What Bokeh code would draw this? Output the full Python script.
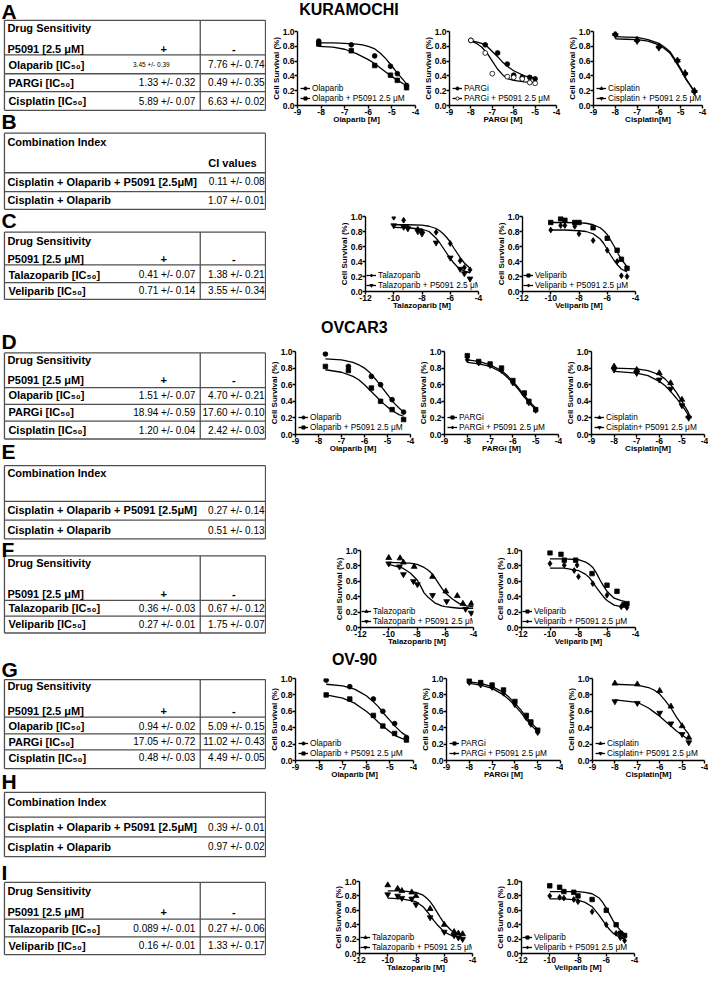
from bokeh.plotting import figure
from bokeh.layouts import row, column
from bokeh.models import Range1d, Legend, LegendItem, FixedTicker, PrintfTickFormatter
from bokeh.embed import file_html
from bokeh.resources import INLINE
from bokeh.core.properties import value

FONT = "Liberation Sans"
MU = "\u03bc"

# ======================= DATA =======================
# --- tables ---
A_drugs = ["Olaparib", "PARGi", "Cisplatin"]
A_plus = ["3.45 +/- 0.39", "1.33 +/- 0.32", "5.89 +/- 0.07"]
A_minus = ["7.76 +/- 0.74", "0.49 +/- 0.35", "6.63 +/- 0.02"]
CI_rows = ["Cisplatin + Olaparib + P5091 [2.5" + MU + "M]", "Cisplatin + Olaparib"]
B_ci = ["0.11 +/- 0.08", "1.07 +/- 0.01"]
C_drugs = ["Talazoparib", "Veliparib"]
C_plus = ["0.41 +/- 0.07", "0.71 +/- 0.14"]
C_minus = ["1.38 +/- 0.21", "3.55 +/- 0.34"]
D_plus = ["1.51 +/- 0.07", "18.94 +/- 0.59", "1.20 +/- 0.04"]
D_minus = ["4.70 +/- 0.21", "17.60 +/- 0.10", "2.42 +/- 0.03"]
E_ci = ["0.27 +/- 0.14", "0.51 +/- 0.13"]
F_plus = ["0.36 +/- 0.03", "0.27 +/- 0.01"]
F_minus = ["0.67 +/- 0.12", "1.75 +/- 0.07"]
G_plus = ["0.94 +/- 0.02", "17.05 +/- 0.72", "0.48 +/- 0.03"]
G_minus = ["5.09 +/- 0.15", "11.02 +/- 0.43", "4.49 +/- 0.05"]
H_ci = ["0.39 +/- 0.01", "0.97 +/- 0.02"]
I_plus = ["0.089 +/- 0.01", "0.16 +/- 0.01"]
I_minus = ["0.27 +/- 0.06", "1.33 +/- 0.17"]

# --- KURAMOCHI ---
ku_ola_x = [-8.1, -6.72, -5.73, -5.06, -4.77, -4.38]
ku_ola_alone = [0.87, 0.82, 0.67, 0.53, 0.43, 0.27]
ku_ola_combo = [0.83, 0.74, 0.54, 0.41, 0.34, 0.24]
ku_ola_fit_x = [-8.1, -7.5, -7.0, -6.5, -6.25, -6.0, -5.75, -5.5, -5.25, -5.0, -4.75, -4.5, -4.38]
ku_ola_fit_alone = [0.845, 0.845, 0.84, 0.83, 0.82, 0.80, 0.77, 0.71, 0.63, 0.53, 0.43, 0.34, 0.29]
ku_ola_fit_combo = [0.80, 0.79, 0.76, 0.70, 0.66, 0.62, 0.57, 0.51, 0.45, 0.39, 0.34, 0.29, 0.27]

ku_parg_x_alone = [-8.0, -7.33, -6.75, -6.3, -6.0, -5.6, -5.25, -5.0]
ku_parg_alone = [0.88, 0.82, 0.71, 0.56, 0.41, 0.38, 0.38, 0.36]
ku_parg_x_combo = [-8.0, -7.33, -7.0, -6.3, -6.0, -5.6, -5.25, -5.0]
ku_parg_combo = [0.88, 0.71, 0.43, 0.39, 0.38, 0.36, 0.31, 0.30]
ku_parg_fit_x = [-8.0, -7.75, -7.5, -7.25, -7.0, -6.75, -6.5, -6.25, -6.0, -5.5, -5.0]
ku_parg_fit_alone = [0.875, 0.86, 0.84, 0.80, 0.73, 0.66, 0.58, 0.52, 0.47, 0.40, 0.37]
ku_parg_fit_combo = [0.875, 0.84, 0.79, 0.71, 0.60, 0.49, 0.41, 0.36, 0.34, 0.32, 0.31]

ku_cis_x = [-8.0, -7.0, -6.0, -5.15, -4.8, -4.37]
ku_cis_alone = [0.97, 0.89, 0.80, 0.61, 0.44, 0.20]
ku_cis_combo = [0.95, 0.87, 0.78, 0.60, 0.42, 0.18]
ku_cis_fit_x = [-8.0, -7.5, -7.0, -6.5, -6.0, -5.75, -5.5, -5.25, -5.0, -4.75, -4.5, -4.37]
ku_cis_fit_alone = [0.93, 0.925, 0.92, 0.89, 0.84, 0.79, 0.73, 0.62, 0.50, 0.36, 0.25, 0.19]
ku_cis_fit_combo = [0.90, 0.895, 0.89, 0.87, 0.82, 0.77, 0.71, 0.60, 0.48, 0.35, 0.24, 0.18]

ku_tala_x = [-10.0, -9.3, -9.0, -8.3, -8.0, -7.0, -6.0, -5.3, -5.0, -4.6]
ku_tala_alone = [0.99, 0.95, 0.85, 0.83, 0.80, 0.79, 0.64, 0.41, 0.32, 0.29]
ku_tala_combo = [0.88, 0.86, 0.84, 0.80, 0.77, 0.65, 0.45, 0.30, 0.24, 0.17]
ku_tala_fit_x = [-10.0, -9.0, -8.0, -7.5, -7.0, -6.75, -6.5, -6.25, -6.0, -5.75, -5.5, -5.25, -5.0, -4.6]
ku_tala_fit_alone = [0.89, 0.89, 0.885, 0.87, 0.84, 0.81, 0.77, 0.72, 0.66, 0.58, 0.51, 0.44, 0.38, 0.31]
ku_tala_fit_combo = [0.855, 0.85, 0.83, 0.80, 0.71, 0.65, 0.58, 0.51, 0.44, 0.38, 0.33, 0.30, 0.27, 0.25]

ku_veli_x = [-10.0, -9.3, -9.0, -8.3, -8.0, -7.0, -6.0, -5.3, -5.0, -4.6]
ku_veli_alone = [0.92, 0.97, 0.95, 0.92, 0.92, 0.85, 0.71, 0.55, 0.43, 0.31]
ku_veli_combo = [0.82, 0.88, 0.88, 0.87, 0.77, 0.68, 0.55, 0.40, 0.21, 0.20]
ku_veli_fit_x = [-10.0, -9.0, -8.0, -7.5, -7.0, -6.5, -6.25, -6.0, -5.75, -5.5, -5.25, -5.0, -4.6]
ku_veli_fit_alone = [0.92, 0.92, 0.915, 0.91, 0.89, 0.85, 0.81, 0.76, 0.68, 0.60, 0.51, 0.43, 0.33]
ku_veli_fit_combo = [0.82, 0.82, 0.81, 0.80, 0.77, 0.70, 0.64, 0.56, 0.48, 0.41, 0.35, 0.30, 0.26]

# --- OVCAR3 ---
ov_ola_x = [-7.7, -6.7, -5.7, -5.3, -4.8, -4.3]
ov_ola_alone = [0.97, 0.82, 0.70, 0.60, 0.42, 0.27]
ov_ola_combo = [0.82, 0.77, 0.56, 0.40, 0.30, 0.18]
ov_ola_fit_x = [-7.7, -7.0, -6.5, -6.25, -6.0, -5.75, -5.5, -5.25, -5.0, -4.75, -4.5, -4.3]
ov_ola_fit_alone = [0.91, 0.90, 0.87, 0.84, 0.80, 0.74, 0.66, 0.57, 0.48, 0.39, 0.32, 0.27]
ov_ola_fit_combo = [0.78, 0.75, 0.70, 0.66, 0.60, 0.53, 0.46, 0.39, 0.33, 0.28, 0.24, 0.22]

ov_parg_x = [-8.0, -7.5, -7.0, -6.5, -6.0, -5.5, -5.3, -5.0]
ov_parg_alone = [0.95, 0.88, 0.85, 0.80, 0.65, 0.50, 0.40, 0.30]
ov_parg_combo = [0.90, 0.86, 0.83, 0.77, 0.62, 0.48, 0.38, 0.29]
ov_parg_fit_x = [-8.0, -7.5, -7.0, -6.5, -6.25, -6.0, -5.75, -5.5, -5.25, -5.0]
ov_parg_fit_alone = [0.90, 0.88, 0.84, 0.77, 0.71, 0.64, 0.56, 0.47, 0.39, 0.32]
ov_parg_fit_combo = [0.87, 0.85, 0.82, 0.75, 0.69, 0.62, 0.54, 0.45, 0.37, 0.30]

ov_cis_x = [-8.0, -7.0, -6.0, -5.5, -5.0, -4.7]
ov_cis_alone = [0.82, 0.78, 0.74, 0.62, 0.42, 0.22]
ov_cis_combo = [0.78, 0.74, 0.66, 0.55, 0.35, 0.20]
ov_cis_fit_x = [-8.0, -7.0, -6.5, -6.0, -5.75, -5.5, -5.25, -5.0, -4.85, -4.7]
ov_cis_fit_alone = [0.80, 0.79, 0.77, 0.72, 0.67, 0.60, 0.51, 0.40, 0.33, 0.26]
ov_cis_fit_combo = [0.76, 0.74, 0.71, 0.64, 0.59, 0.52, 0.44, 0.35, 0.29, 0.23]

ov_tala_x_alone = [-10.0, -9.2, -8.96, -8.2, -6.9, -5.96, -5.15, -4.75, -4.16]
ov_tala_alone = [0.905, 0.90, 0.845, 0.79, 0.66, 0.47, 0.41, 0.31, 0.31]
ov_tala_x_combo = [-10.0, -9.24, -8.96, -8.25, -7.97, -6.9, -5.9, -4.56, -4.16]
ov_tala_combo = [0.83, 0.79, 0.69, 0.60, 0.56, 0.42, 0.34, 0.24, 0.19]
ov_tala_fit_x = [-10.0, -9.0, -8.5, -8.0, -7.75, -7.5, -7.25, -7.0, -6.75, -6.5, -6.25, -6.0,
                 -5.5, -5.0, -4.5, -4.0]
ov_tala_fit_alone = [0.845, 0.84, 0.835, 0.82, 0.80, 0.78, 0.75, 0.71, 0.65, 0.58, 0.51, 0.45,
                     0.37, 0.31, 0.28, 0.27]
ov_tala_fit_combo = [0.82, 0.77, 0.71, 0.62, 0.54, 0.45, 0.40, 0.36, 0.32, 0.30, 0.28, 0.27,
                     0.26, 0.25, 0.25, 0.25]

ov_veli_x_alone = [-10.0, -9.23, -9.0, -8.2, -7.05, -6.0, -5.3, -4.8, -4.6]
ov_veli_alone = [0.97, 0.95, 0.875, 0.875, 0.70, 0.55, 0.47, 0.30, 0.31]
ov_veli_x_combo = [-10.0, -9.0, -8.3, -8.1, -8.0, -7.0, -6.0, -5.0, -4.6]
ov_veli_combo = [0.83, 0.81, 0.74, 0.81, 0.66, 0.57, 0.42, 0.27, 0.26]
ov_veli_fit_x = [-10.0, -9.0, -8.0, -7.5, -7.25, -7.0, -6.75, -6.5, -6.25, -6.0, -5.5, -5.0, -4.75]
ov_veli_fit_alone = [0.89, 0.89, 0.88, 0.85, 0.82, 0.78, 0.71, 0.62, 0.54, 0.47, 0.38, 0.35, 0.34]
ov_veli_fit_combo = [0.77, 0.77, 0.74, 0.69, 0.65, 0.59, 0.52, 0.46, 0.40, 0.35, 0.29, 0.27, 0.26]

# --- OV-90 ---
o9_ola_x = [-7.7, -6.7, -5.7, -5.3, -4.8, -4.3]
o9_ola_alone = [0.98, 0.90, 0.75, 0.60, 0.45, 0.28]
o9_ola_combo = [0.80, 0.75, 0.55, 0.42, 0.33, 0.25]
o9_ola_fit_x = [-7.7, -7.0, -6.5, -6.25, -6.0, -5.75, -5.5, -5.25, -5.0, -4.75, -4.5, -4.3]
o9_ola_fit_alone = [0.93, 0.91, 0.87, 0.83, 0.79, 0.73, 0.66, 0.57, 0.49, 0.41, 0.34, 0.30]
o9_ola_fit_combo = [0.80, 0.76, 0.70, 0.65, 0.60, 0.54, 0.47, 0.41, 0.35, 0.30, 0.27, 0.25]

o9_parg_x = [-8.0, -7.5, -7.0, -6.5, -6.0, -5.5, -5.3, -5.0]
o9_parg_alone = [0.97, 0.95, 0.92, 0.86, 0.72, 0.55, 0.47, 0.37]
o9_parg_combo = [0.95, 0.92, 0.89, 0.82, 0.68, 0.52, 0.44, 0.34]
o9_parg_fit_x = [-8.0, -7.5, -7.0, -6.5, -6.25, -6.0, -5.75, -5.5, -5.25, -5.0]
o9_parg_fit_alone = [0.96, 0.94, 0.90, 0.83, 0.77, 0.70, 0.62, 0.53, 0.45, 0.38]
o9_parg_fit_combo = [0.94, 0.92, 0.88, 0.80, 0.74, 0.67, 0.59, 0.50, 0.42, 0.35]

o9_cis_x = [-8.0, -7.0, -6.0, -5.5, -5.0, -4.7]
o9_cis_alone = [0.94, 0.93, 0.85, 0.66, 0.42, 0.28]
o9_cis_combo = [0.72, 0.70, 0.58, 0.45, 0.32, 0.22]
o9_cis_fit_x = [-8.0, -7.0, -6.5, -6.25, -6.0, -5.75, -5.5, -5.25, -5.0, -4.85, -4.7]
o9_cis_fit_alone = [0.93, 0.92, 0.89, 0.86, 0.81, 0.73, 0.64, 0.53, 0.43, 0.37, 0.32]
o9_cis_fit_combo = [0.74, 0.71, 0.64, 0.59, 0.54, 0.48, 0.42, 0.36, 0.31, 0.28, 0.26]

o9_tala_x = [-10.0, -9.3, -9.0, -8.3, -8.0, -7.0, -6.0, -5.3, -5.0, -4.7]
o9_tala_alone = [0.95, 0.90, 0.87, 0.85, 0.80, 0.62, 0.40, 0.30, 0.28, 0.27]
o9_tala_combo = [0.82, 0.80, 0.77, 0.76, 0.68, 0.50, 0.30, 0.25, 0.22, 0.20]
o9_tala_fit_x = [-10.0, -9.0, -8.0, -7.5, -7.25, -7.0, -6.75, -6.5, -6.25, -6.0, -5.5, -5.0, -4.7]
o9_tala_fit_alone = [0.87, 0.87, 0.85, 0.81, 0.77, 0.72, 0.65, 0.57, 0.49, 0.42, 0.32, 0.27, 0.26]
o9_tala_fit_combo = [0.77, 0.76, 0.72, 0.65, 0.59, 0.53, 0.46, 0.40, 0.35, 0.30, 0.25, 0.23, 0.22]

o9_veli_x = [-10.0, -9.3, -9.0, -8.3, -8.0, -7.0, -6.0, -5.3, -5.0, -4.7]
o9_veli_alone = [0.94, 0.92, 0.86, 0.85, 0.80, 0.75, 0.60, 0.40, 0.28, 0.25]
o9_veli_combo = [0.80, 0.78, 0.77, 0.75, 0.72, 0.58, 0.40, 0.28, 0.22, 0.18]
o9_veli_fit_x = [-10.0, -9.0, -8.0, -7.5, -7.0, -6.5, -6.25, -6.0, -5.75, -5.5, -5.25, -5.0, -4.7]
o9_veli_fit_alone = [0.86, 0.86, 0.86, 0.85, 0.83, 0.77, 0.71, 0.63, 0.54, 0.45, 0.38, 0.32, 0.27]
o9_veli_fit_combo = [0.76, 0.76, 0.74, 0.71, 0.65, 0.53, 0.46, 0.39, 0.33, 0.28, 0.25, 0.22, 0.20]

# ======================= GEOMETRY =======================
KX = KY = 0.99
X0, Y0 = 3, 2
SPLIT, RIGHT, BOTTOM = 272, 718, 986


def px(r):
    return int(round((r - X0) * KX))


def py(r):
    return int(round((r - Y0) * KY))


def blank_fig(w, h, xr, yr):
    f = figure(width=w, height=h, x_range=Range1d(*xr), y_range=Range1d(*yr),
               toolbar_location=None, output_backend="svg", min_border=0,
               outline_line_color=None, x_axis_location=None, y_axis_location=None)
    f.grid.visible = False
    return f


# ======================= LEFT: TABLES =======================
lf = blank_fig(px(SPLIT), py(BOTTOM), (X0, SPLIT), (BOTTOM, Y0))
seg = dict(x0=[], y0=[], x1=[], y1=[])
groups = {}
XL, XR, XD = 7, 271, 205


def hline(y):
    seg["x0"].append(XL); seg["x1"].append(XR); seg["y0"].append(y); seg["y1"].append(y)


def vline(x, ya, yb):
    seg["x0"].append(x); seg["x1"].append(x); seg["y0"].append(ya); seg["y1"].append(yb)


def txt(x, y, s, size="11px", bold=True, align="left"):
    g = groups.setdefault((size, bold, align), dict(x=[], y=[], text=[]))
    g["x"].append(x); g["y"].append(y); g["text"].append(s)


def ds_table(g, drugs, plus, minus, small_first=False):
    rows = g["rows"]
    for y in [g["top"], g["hdr"]] + rows:
        hline(y)
    for x in (XL, XR, XD):
        vline(x, g["top"], rows[-1])
    txt(10, g["t_ds"], "Drug Sensitivity")
    txt(10, g["t_p"], "P5091 [2.5 " + MU + "M]")
    txt(168, g["t_p"], "+", align="center")
    txt(239, g["t_p"], "-", align="center")
    for i, (d, a, b, ty) in enumerate(zip(drugs, plus, minus, g["t_rows"])):
        txt(11, ty, d + " [IC\u2085\u2080]")
        if small_first and i == 0:
            txt(137, ty, a, size="6.5px", bold=False)
        else:
            txt(200, ty, a, size="10px", bold=False, align="right")
        txt(270, ty, b, size="10px", bold=False, align="right")


def ci_table(g, labels, ci, header):
    rows = g["rows"]
    for y in [g["top"], g["hdr"]] + rows:
        hline(y)
    for x in (XL, XR):
        vline(x, g["top"], rows[-1])
    txt(10, g["t_title"], "Combination Index")
    if header:
        txt(262, g["t_ci"], "CI values", align="right")
    for lab, v, ty in zip(labels, ci, g["t_rows"]):
        txt(10, ty, lab)
        txt(270, ty, v, size="10px", bold=False, align="right")


ds_table(dict(top=22, hdr=57, rows=[76, 94, 113], t_ds=30, t_p=51, t_rows=[67, 85, 104]),
         A_drugs, A_plus, A_minus, small_first=True)
ci_table(dict(top=136, hdr=176, rows=[195, 213], t_title=145, t_ci=166, t_rows=[185, 204]),
         CI_rows, B_ci, True)
ds_table(dict(top=236, hdr=269, rows=[287, 304], t_ds=245, t_p=263, t_rows=[279, 295]),
         C_drugs, C_plus, C_minus)
ds_table(dict(top=358, hdr=393, rows=[410, 427, 445], t_ds=365, t_p=385, t_rows=[401, 418, 436]),
         A_drugs, D_plus, D_minus)
ci_table(dict(top=472, hdr=508, rows=[527, 546], t_title=479, t_rows=[517, 537]),
         CI_rows, E_ci, False)
ds_table(dict(top=563, hdr=608, rows=[624, 641], t_ds=570, t_p=602, t_rows=[616, 632]),
         C_drugs, F_plus, F_minus)
ds_table(dict(top=688, hdr=726, rows=[743, 759, 778], t_ds=695, t_p=720, t_rows=[735, 751, 767]),
         A_drugs, G_plus, G_minus)
ci_table(dict(top=802, hdr=827, rows=[847, 867], t_title=812, t_rows=[837, 857]),
         CI_rows, H_ci, False)
ds_table(dict(top=893, hdr=930, rows=[948, 966], t_ds=902, t_p=923, t_rows=[940, 957]),
         C_drugs, I_plus, I_minus)

for letter, ly in zip("ABCDEFGHI", [13, 124, 224, 347, 458, 557, 678, 791, 883]):
    txt(4, ly, letter, size="21px")

lf.segment(x0="x0", y0="y0", x1="x1", y1="y1", source=seg, line_color="#505050", line_width=1.3)
for (size, bold, align), g in groups.items():
    lf.text(x=g["x"], y=g["y"], text=g["text"], text_font=value(FONT), text_font_size=size,
            text_font_style="bold" if bold else "normal", text_align=align,
            text_baseline="middle", text_color="black")

# ======================= RIGHT: PLOTS =======================
RW = px(RIGHT) - px(SPLIT)


def title_fig(y0, y1, tx, ty, s):
    f = blank_fig(RW, py(y1) - py(y0), (SPLIT, RIGHT), (y1, y0))
    f.text(x=[tx], y=[ty], text=[s], text_font=value(FONT), text_font_size="16px",
           text_font_style="bold", text_baseline="middle", text_align="left")
    return f


MSIZE = {"circle": 4.8, "square": 4.5, "triangle": 5.8, "inverted_triangle": 5.8, "diamond": 5.8}


def dose_plot(box, frame, xr, xticks, xlabel, s1, s2, labels, markers, open2=False, leg=(3, 2)):
    x0, x1, y0, y1 = box
    fx0, fx1, fy0, fy1 = frame
    p = figure(width=px(x1) - px(x0), height=py(y1) - py(y0),
               x_range=Range1d(*xr), y_range=Range1d(0, 1.0),
               min_border_left=px(fx0) - px(x0), min_border_right=px(x1) - px(fx1),
               min_border_top=py(fy0) - py(y0), min_border_bottom=py(y1) - py(fy1),
               toolbar_location=None, output_backend="svg", outline_line_color=None)
    p.grid.visible = False
    for ax in p.axis:
        ax.axis_line_width = 1.4
        ax.axis_line_color = "black"
        ax.major_tick_line_width = 1.4
        ax.major_tick_line_color = "black"
        ax.major_tick_out = 3
        ax.major_tick_in = 0
        ax.minor_tick_out = 0
        ax.minor_tick_in = 0
        ax.major_label_text_font = FONT
        ax.major_label_text_font_style = "bold"
        ax.major_label_text_font_size = "8.5px"
        ax.major_label_text_color = "black"
        ax.major_label_standoff = 0
        ax.axis_label_text_font = FONT
        ax.axis_label_text_font_style = "bold"
        ax.axis_label_text_font_size = "8px"
        ax.axis_label_text_color = "black"
    p.xaxis.ticker = FixedTicker(ticks=xticks)
    p.yaxis.ticker = FixedTicker(ticks=[0.0, 0.2, 0.4, 0.6, 0.8, 1.0])
    p.xaxis.formatter = PrintfTickFormatter(format="%d")
    p.yaxis.formatter = PrintfTickFormatter(format="%.1f")
    p.xaxis.axis_label = xlabel
    p.yaxis.axis_label = "Cell Survival (%)"
    p.xaxis.axis_label_standoff = -3
    p.yaxis.axis_label_standoff = -1

    items = []
    for k, (s, lab, mk) in enumerate(zip((s1, s2), labels, markers)):
        xs, ys, fx, fy = s
        ln = p.line(fx, fy, line_color="black", line_width=1.3)
        fill = "white" if (k == 1 and open2) else "black"
        sc = p.scatter(xs, ys, marker=mk, size=MSIZE[mk], fill_color=fill, line_color="black",
                       line_width=0.8)
        items.append(LegendItem(label=lab, renderers=[ln, sc]))
    lg = Legend(items=items, location=leg, label_text_font=FONT, label_text_font_size="8.3px",
                label_text_color="black",
                label_height=8, glyph_height=8, glyph_width=10, label_standoff=2, spacing=0,
                padding=0, margin=0, border_line_color=None, background_fill_alpha=0)
    p.add_layout(lg)
    return p


P = " + P5091 2.5 " + MU + "M"
P2 = "+ P5091 2.5 " + MU + "M"
T9 = [-9, -8, -7, -6, -5, -4]
T12 = [-12, -10, -8, -6, -4]

# KURAMOCHI row
b1 = (24, 142)
k1 = dose_plot((SPLIT, 427) + b1, (303, 422, 33, 108), (-9, -4), T9, "Olaparib [M]",
               (ku_ola_x, ku_ola_alone, ku_ola_fit_x, ku_ola_fit_alone),
               (ku_ola_x, ku_ola_combo, ku_ola_fit_x, ku_ola_fit_combo),
               ("Olaparib", "Olaparib" + P), ("circle", "square"))
k2 = dose_plot((427, 573) + b1, (450, 565, 33, 108), (-9, -4), T9, "PARGi [M]",
               (ku_parg_x_alone, ku_parg_alone, ku_parg_fit_x, ku_parg_fit_alone),
               (ku_parg_x_combo, ku_parg_combo, ku_parg_fit_x, ku_parg_fit_combo),
               ("PARGi", "PARGi" + P), ("circle", "circle"), open2=True)
k3 = dose_plot((573, RIGHT) + b1, (598, 712, 33, 108), (-9, -4), T9, "Cisplatin[M]",
               (ku_cis_x, ku_cis_alone, ku_cis_fit_x, ku_cis_fit_alone),
               (ku_cis_x, ku_cis_combo, ku_cis_fit_x, ku_cis_fit_combo),
               ("Cisplatin", "Cisplatin" + P), ("triangle", "inverted_triangle"))
b2 = (142, 318)
c1 = dose_plot((SPLIT, 500) + b2, (372, 486, 220, 296), (-12, -4), T12, "Talazoparib [M]",
               (ku_tala_x, ku_tala_alone, ku_tala_fit_x, ku_tala_fit_alone),
               (ku_tala_x, ku_tala_combo, ku_tala_fit_x, ku_tala_fit_combo),
               ("Talazoparib", "Talazoparib" + P), ("diamond", "inverted_triangle"), leg=(1, 1))
c2 = dose_plot((500, RIGHT) + b2, (530, 644, 220, 296), (-12, -4), T12, "Veliparib [M]",
               (ku_veli_x, ku_veli_alone, ku_veli_fit_x, ku_veli_fit_alone),
               (ku_veli_x, ku_veli_combo, ku_veli_fit_x, ku_veli_fit_combo),
               ("Veliparib", "Veliparib" + P), ("square", "diamond"), leg=(1, 1))

# OVCAR3 rows
b4 = (347, 462)
d1 = dose_plot((SPLIT, 422) + b4, (295, 417, 357, 440), (-9, -4), T9, "Olaparib [M]",
               (ov_ola_x, ov_ola_alone, ov_ola_fit_x, ov_ola_fit_alone),
               (ov_ola_x, ov_ola_combo, ov_ola_fit_x, ov_ola_fit_combo),
               ("Olaparib", "Olaparib" + P), ("circle", "square"))
d2 = dose_plot((422, 571) + b4, (445, 567, 357, 440), (-9, -4), T9, "PARGi [M]",
               (ov_parg_x, ov_parg_alone, ov_parg_fit_x, ov_parg_fit_alone),
               (ov_parg_x, ov_parg_combo, ov_parg_fit_x, ov_parg_fit_combo),
               ("PARGi", "PARGi" + P), ("square", "diamond"))
d3 = dose_plot((571, RIGHT) + b4, (593, 714, 357, 440), (-9, -4), T9, "Cisplatin[M]",
               (ov_cis_x, ov_cis_alone, ov_cis_fit_x, ov_cis_fit_alone),
               (ov_cis_x, ov_cis_combo, ov_cis_fit_x, ov_cis_fit_combo),
               ("Cisplatin", "Cisplatin" + P2), ("triangle", "inverted_triangle"))
b5 = (462, 657)
f1 = dose_plot((SPLIT, 500) + b5, (367, 481, 558, 636), (-12, -4), T12, "Talazoparib [M]",
               (ov_tala_x_alone, ov_tala_alone, ov_tala_fit_x, ov_tala_fit_alone),
               (ov_tala_x_combo, ov_tala_combo, ov_tala_fit_x, ov_tala_fit_combo),
               ("Talazoparib", "Talazoparib" + P), ("triangle", "inverted_triangle"), leg=(1, 1))
f2 = dose_plot((500, RIGHT) + b5, (528, 644, 558, 636), (-12, -4), T12, "Veliparib [M]",
               (ov_veli_x_alone, ov_veli_alone, ov_veli_fit_x, ov_veli_fit_alone),
               (ov_veli_x_combo, ov_veli_combo, ov_veli_fit_x, ov_veli_fit_combo),
               ("Veliparib", "Veliparib" + P), ("square", "diamond"), leg=(1, 1))

# OV-90 rows
b7 = (680, 800)
g1 = dose_plot((SPLIT, 424) + b7, (300, 420, 687, 770), (-9, -4), T9, "Olaparib [M]",
               (o9_ola_x, o9_ola_alone, o9_ola_fit_x, o9_ola_fit_alone),
               (o9_ola_x, o9_ola_combo, o9_ola_fit_x, o9_ola_fit_combo),
               ("Olaparib", "Olaparib" + P), ("circle", "square"))
g2 = dose_plot((424, 572) + b7, (448, 569, 687, 770), (-9, -4), T9, "PARGi [M]",
               (o9_parg_x, o9_parg_alone, o9_parg_fit_x, o9_parg_fit_alone),
               (o9_parg_x, o9_parg_combo, o9_parg_fit_x, o9_parg_fit_combo),
               ("PARGi", "PARGi" + P), ("square", "diamond"))
g3 = dose_plot((572, RIGHT) + b7, (595, 714, 687, 770), (-9, -4), T9, "Cisplatin[M]",
               (o9_cis_x, o9_cis_alone, o9_cis_fit_x, o9_cis_fit_alone),
               (o9_cis_x, o9_cis_combo, o9_cis_fit_x, o9_cis_fit_combo),
               ("Cisplatin", "Cisplatin" + P2), ("triangle", "inverted_triangle"))
b8 = (800, BOTTOM)
i1 = dose_plot((SPLIT, 500) + b8, (366, 480, 892, 967), (-12, -4), T12, "Talazoparib [M]",
               (o9_tala_x, o9_tala_alone, o9_tala_fit_x, o9_tala_fit_alone),
               (o9_tala_x, o9_tala_combo, o9_tala_fit_x, o9_tala_fit_combo),
               ("Talazoparib", "Talazoparib" + P), ("triangle", "inverted_triangle"), leg=(1, 1))
i2 = dose_plot((500, RIGHT) + b8, (527, 643, 892, 967), (-12, -4), T12, "Veliparib [M]",
               (o9_veli_x, o9_veli_alone, o9_veli_fit_x, o9_veli_fit_alone),
               (o9_veli_x, o9_veli_combo, o9_veli_fit_x, o9_veli_fit_combo),
               ("Veliparib", "Veliparib" + P), ("square", "diamond"), leg=(1, 1))

right = column(
    title_fig(Y0, 24, 305, 11, "KURAMOCHI"),
    row(k1, k2, k3, spacing=0),
    row(c1, c2, spacing=0),
    title_fig(318, 347, 327, 332, "OVCAR3"),
    row(d1, d2, d3, spacing=0),
    row(f1, f2, spacing=0),
    title_fig(657, 680, 338, 668, "OV-90"),
    row(g1, g2, g3, spacing=0),
    row(i1, i2, spacing=0),
    spacing=0,
)
page = row(lf, right, spacing=0)

open("out.html", "w").write(file_html(page, INLINE))
